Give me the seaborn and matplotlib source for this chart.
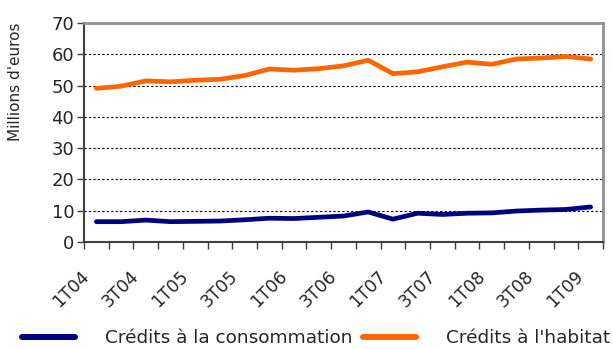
import matplotlib
matplotlib.use("Agg")
import matplotlib.pyplot as plt
import matplotlib.transforms as mtransforms
import seaborn as sns
import pandas as pd
import numpy as np

quarters = ["1T04", "2T04", "3T04", "4T04", "1T05", "2T05", "3T05", "4T05",
            "1T06", "2T06", "3T06", "4T06", "1T07", "2T07", "3T07", "4T07",
            "1T08", "2T08", "3T08", "4T08", "1T09"]
consommation = [6.5, 6.5, 7.0, 6.5, 6.6, 6.7, 7.1, 7.6, 7.5, 7.9, 8.3,
                9.6, 7.3, 9.2, 8.8, 9.2, 9.3, 9.9, 10.2, 10.4, 11.2]
habitat = [49.1, 49.8, 51.5, 51.2, 51.7, 52.0, 53.2, 55.3, 54.9, 55.4, 56.3,
           58.1, 53.8, 54.4, 56.0, 57.5, 56.8, 58.5, 58.8, 59.3, 58.5]
series_names = ["Crédits à la consommation", "Crédits à l'habitat"]

df = pd.DataFrame({
    "pos": list(range(len(quarters))) * 2,
    "valeur": consommation + habitat,
    "serie": [series_names[0]] * len(quarters) + [series_names[1]] * len(quarters),
})

sns.set_style("white")
plt.rcParams["font.family"] = ["DejaVu Sans"]

fig = plt.figure(figsize=(6.13, 3.49), dpi=100)
ax = fig.add_axes([84 / 613, 1 - 242 / 349, (603 - 84) / 613, (242 - 23) / 349])

sns.lineplot(data=df, x="pos", y="valeur", hue="serie", ax=ax,
             palette={series_names[0]: "#000080", series_names[1]: "#FF6600"},
             linewidth=3.4, legend=False)

ax.set_yticks(range(0, 71, 10))
ax.tick_params(axis="y", labelsize=13, left=True, length=5, width=1,
               color="#404040", pad=2)

# tick marks on the boundaries between quarters
ax.set_xticks([])
ax.set_xticks(np.arange(-0.5, len(quarters), 1), minor=True)
ax.tick_params(axis="x", which="minor", bottom=True, length=5, width=1, color="#404040")
ax.set_xlim(-0.5, len(quarters) - 0.5)
ax.set_ylim(0, 70)

# rotated labels every other quarter, nudged left/down like the Excel original
offset = mtransforms.ScaledTranslation(-16 / 100, -25 / 100, fig.dpi_scale_trans)
label_tr = ax.get_xaxis_transform() + offset
for i in range(0, len(quarters), 2):
    ax.text(i, 0, quarters[i], transform=label_tr, rotation=45, ha="right",
            va="top", rotation_mode="anchor", fontsize=12.5, color="#262626")

for y in range(10, 70, 10):
    ax.axhline(y, color="black", linestyle=(0, (2, 2)), linewidth=0.8, zorder=0)

ax.set_xlabel("")
ax.set_ylabel("Millions d'euros", fontsize=11)
ax.yaxis.set_label_coords(-0.1175, 0.73)

for side in ["left", "bottom"]:
    ax.spines[side].set_color("#404040")
    ax.spines[side].set_linewidth(1.5)
for side in ["top", "right"]:
    ax.spines[side].set_color("#909090")
    ax.spines[side].set_linewidth(2)
    ax.spines[side].set_visible(True)

handles = [plt.Line2D([], [], color="#000080", linewidth=4.3, solid_capstyle="round"),
           plt.Line2D([], [], color="#FF6600", linewidth=4.3, solid_capstyle="round")]
fig.legend(handles, series_names, loc="center left",
           bbox_to_anchor=(22 / 613, 1 - 338 / 349),
           ncol=2, frameon=False, fontsize=13.3, handlelength=2.87,
           handletextpad=1.6, columnspacing=0.6, borderpad=0, borderaxespad=0)

fig.savefig("out.png", dpi=100)
